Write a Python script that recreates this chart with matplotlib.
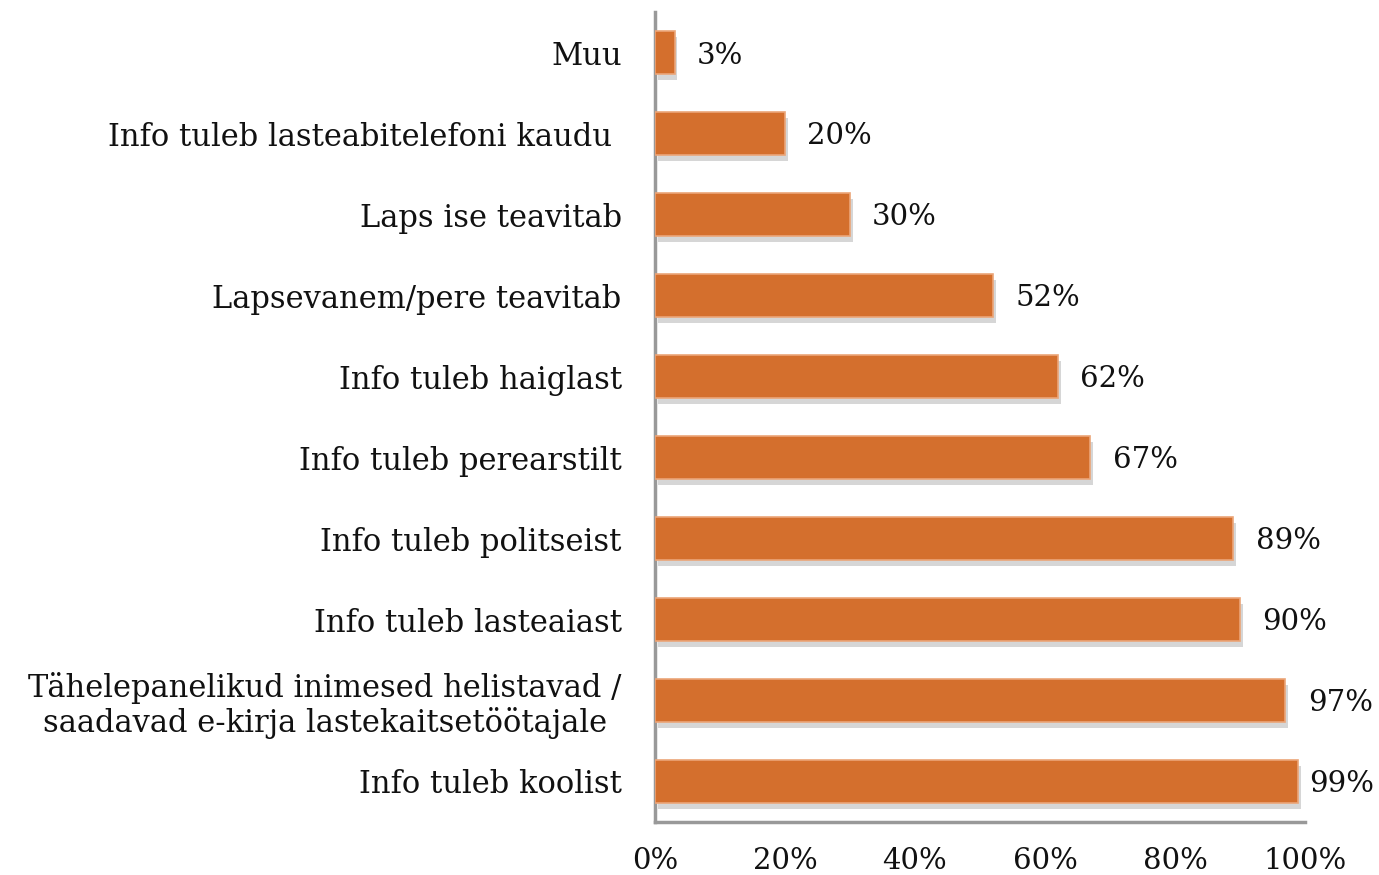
import matplotlib
matplotlib.use("Agg")
import matplotlib.pyplot as plt
import matplotlib.patheffects as pe

categories = [
    "Info tuleb koolist",
    "Tähelepanelikud inimesed helistavad /\nsaadavad e-kirja lastekaitsetöötajale",
    "Info tuleb lasteaiast",
    "Info tuleb politseist",
    "Info tuleb perearstilt",
    "Info tuleb haiglast",
    "Lapsevanem/pere teavitab",
    "Laps ise teavitab",
    "Info tuleb lasteabitelefoni kaudu ",
    "Muu",
]
values = [99, 97, 90, 89, 67, 62, 52, 30, 20, 3]
xticks = [0, 20, 40, 60, 80, 100]

plt.rcParams['font.family'] = ['DejaVu Serif']

fig = plt.figure(figsize=(13.79, 8.75), dpi=100)
ax = fig.add_axes([0.475, 0.0606, 0.4713, 0.9254])

bar_color = '#D46F2D'
ypos = list(range(len(categories)))
bars = ax.barh(ypos, values, height=0.53, color=bar_color, edgecolor='#EBA578',
               linewidth=1.2, zorder=3)
for b in bars:
    b.set_path_effects([pe.SimplePatchShadow(offset=(2, -4), shadow_rgbFace='#999999', alpha=0.4),
                        pe.Normal()])

for y, v in zip(ypos, values):
    off = 8 if v >= 99 else 16
    ax.annotate(f"{v}%", xy=(v, y), xytext=(off, -2), textcoords='offset points',
                va='center', ha='left', fontsize=21, color='#111111')

ax.set_xlim(0, 100)
ax.set_ylim(-0.5, len(categories) - 0.5)
ax.set_yticks(ypos)
ax.set_yticklabels(categories, fontsize=22, color='#111111', multialignment='center',
                   linespacing=1.1)
ax.set_xticks(xticks)
ax.set_xticklabels([f"{t}%" for t in xticks], fontsize=21, color='#111111')
ax.tick_params(axis='both', length=0)
ax.tick_params(axis='y', pad=24)
ax.tick_params(axis='x', pad=18)

for s in ['top', 'right']:
    ax.spines[s].set_visible(False)
for s in ['left', 'bottom']:
    ax.spines[s].set_color('#999999')
    ax.spines[s].set_linewidth(2.5)

fig.savefig("out.png", dpi=100)
